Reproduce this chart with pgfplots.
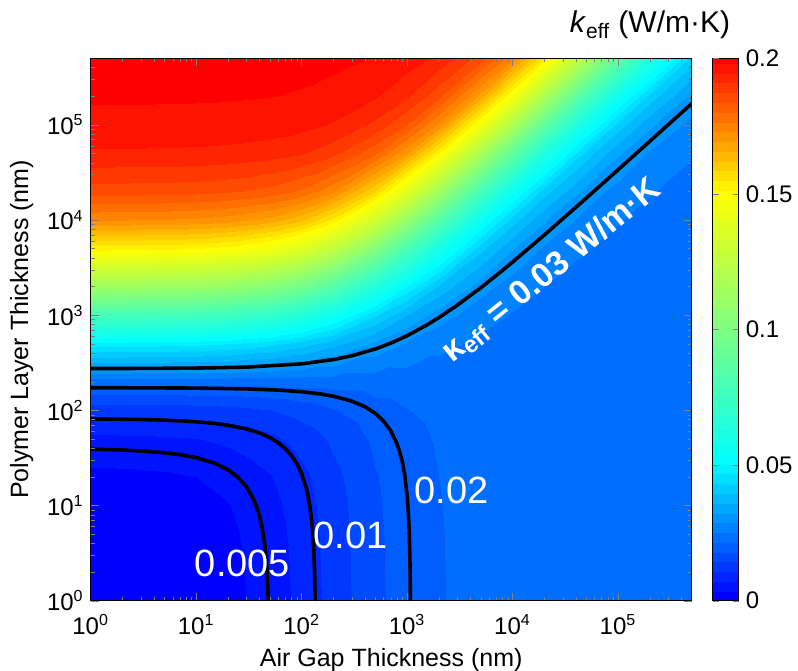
\documentclass[border=0pt]{standalone}
\usepackage{pgfplots}
\pgfplotsset{compat=1.18}
\usepackage{fontspec}
\setmainfont{Liberation Sans}

\pgfplotsset{
  colormap={kmap}{rgb(0pt)=(0,0,1); rgb(1pt)=(0,1,1); rgb(3pt)=(1,1,0); rgb(4pt)=(1,0,0)},
}

\begin{document}
\begin{tikzpicture}
\useasboundingbox (-45.35pt,-34.65pt) rectangle (353.65pt,300.35pt);
\begin{axis}[
  at={(0,0)}, anchor=south west,
  scale only axis, width=300.5pt, height=271.2pt,
  view={0}{90},
  xmode=log, ymode=log,
  xmin=1, xmax=5e5, ymin=1, ymax=5e5,
  colormap name=kmap,
  point meta min=0, point meta max=0.2,
  axis on top,
  tick align=inside,
  major tick length=4pt, minor tick length=2pt,
  xtick={1,10,100,1000,10000,100000},
  ytick={1,10,100,1000,10000,100000},
  xticklabels={10\textsuperscript{0},10\textsuperscript{1},10\textsuperscript{2},10\textsuperscript{3},10\textsuperscript{4},10\textsuperscript{5}},
  yticklabels={10\textsuperscript{0},10\textsuperscript{1},10\textsuperscript{2},10\textsuperscript{3},10\textsuperscript{4},10\textsuperscript{5}},
  minor xtick={2,3,4,5,6,7,8,9,20,30,40,50,60,70,80,90,200,300,400,500,600,700,800,900,2000,3000,4000,5000,6000,7000,8000,9000,20000,30000,40000,50000,60000,70000,80000,90000,200000,300000,400000},
  minor ytick={2,3,4,5,6,7,8,9,20,30,40,50,60,70,80,90,200,300,400,500,600,700,800,900,2000,3000,4000,5000,6000,7000,8000,9000,20000,30000,40000,50000,60000,70000,80000,90000,200000,300000,400000},
  tick label style={font=\fontsize{12}{14}\selectfont},
  xticklabel style={yshift=-3.5pt},
  xlabel={Air Gap Thickness (nm)},
  ylabel={Polymer Layer Thickness (nm)},
  label style={font=\fontsize{12.5}{15}\selectfont},
  colorbar,
  colorbar style={
    at={(parent axis.north east)}, anchor=north west, xshift=2pt,
    width=13pt,
    ytick={0,0.05,0.1,0.15,0.2},
    yticklabels={0,0.05,0.1,0.15,0.2},
    yticklabel style={font=\fontsize{12}{14}\selectfont},
    ytick pos=both, yticklabel pos=right,
    tick align=inside, major tick length=3pt,
  },
]
% rows from the top (p = 5e5) down, so that cells are split along the rising diagonal
\addplot3[z buffer=none, contour filled={levels={0.0036,0.0072,0.0108,0.0144,0.018,0.0216,0.0252,0.0288,0.0324,0.036,0.0396,0.0432,0.0468,0.0504,0.054,0.0576,0.0612,0.0648,0.0684,0.072,0.0756,0.0792,0.0828,0.0864,0.09,0.0936,0.0972,0.1008,0.1044,0.108,0.1116,0.1152,0.1188,0.1224,0.126,0.1296,0.1332,0.1368,0.1404,0.144,0.1476,0.1512,0.1548,0.1584,0.162,0.1656,0.1692,0.1728,0.1764,0.18,0.1836,0.1872,0.1908,0.1944,0.198}}] table {
x y z
1 500000 0.199376
2 500000 0.199373
5 500000 0.199364
10 500000 0.199349
20 500000 0.199319
50 500000 0.199229
100 500000 0.199079
200 500000 0.198779
500 500000 0.197890
1000 500000 0.196426
2000 500000 0.193569
5000 500000 0.185540
10000 500000 0.173719
20000 500000 0.154588
50000 500000 0.118336
100000 500000 0.088394
200000 500000 0.063247
500000 500000 0.041827

1 200000 0.198448
2 200000 0.198441
5 200000 0.198418
10 200000 0.198381
20 200000 0.198307
50 200000 0.198085
100 200000 0.197715
200 200000 0.196981
500 200000 0.194815
1000 200000 0.191322
2000 200000 0.184748
5000 200000 0.167788
10000 200000 0.146260
20000 200000 0.118040
50000 200000 0.079421
100000 200000 0.056735
200000 200000 0.041807
500000 200000 0.031239

1 100000 0.196921
2 100000 0.196906
5 100000 0.196862
10 100000 0.196788
20 100000 0.196643
50 100000 0.196207
100 100000 0.195484
200 100000 0.194057
500 100000 0.189916
1000 100000 0.183442
2000 100000 0.171896
5000 100000 0.145473
10000 100000 0.117549
20000 100000 0.087991
50000 100000 0.056651
100000 100000 0.041773
200000 100000 0.033084
500000 100000 0.027388

1 50000 0.193934
2 50000 0.193905
5 50000 0.193820
10 50000 0.193680
20 50000 0.193398
50 50000 0.192558
100 50000 0.191176
200 50000 0.188479
500 50000 0.180885
1000 50000 0.169670
2000 50000 0.151435
5000 50000 0.116579
10000 50000 0.087492
20000 50000 0.062849
50000 50000 0.041705
100000 50000 0.033056
200000 50000 0.028352
500000 50000 0.025395

1 20000 0.185496
2 20000 0.185430
5 20000 0.185238
10 20000 0.184918
20 20000 0.184282
50 20000 0.182402
100 20000 0.179365
200 20000 0.173626
500 20000 0.158691
1000 20000 0.139459
2000 20000 0.113765
5000 20000 0.077692
10000 20000 0.055993
20000 20000 0.041503
50000 20000 0.031142
100000 20000 0.027348
200000 20000 0.025381
500000 20000 0.024177

1 10000 0.172954
2 10000 0.172843
5 10000 0.172512
10 10000 0.171964
20 10000 0.170879
50 10000 0.167718
100 10000 0.162741
200 10000 0.153749
500 10000 0.132606
1000 10000 0.109364
2000 10000 0.083693
5000 10000 0.055192
10000 10000 0.041171
20000 10000 0.032831
50000 10000 0.027300
100000 10000 0.025359
200000 10000 0.024368
500000 10000 0.023768

1 5000 0.152354
2 5000 0.152186
5 5000 0.151685
10 5000 0.150858
20 5000 0.149236
50 5000 0.144608
100 5000 0.137607
200 5000 0.125780
500 5000 0.101510
1000 5000 0.079384
2000 5000 0.059130
5000 5000 0.040522
10000 5000 0.032553
20000 5000 0.028128
50000 5000 0.025313
100000 5000 0.024346
200000 5000 0.023857
500000 5000 0.023562

1 2000 0.112259
2 2000 0.112047
5 2000 0.111414
10 2000 0.110379
20 2000 0.108381
50 2000 0.102901
100 2000 0.095186
200 2000 0.083517
500 2000 0.063805
1000 2000 0.049520
2000 2000 0.038691
5000 2000 0.030201
10000 2000 0.026919
20000 2000 0.025178
50000 2000 0.024099
100000 2000 0.023733
200000 2000 0.023549
500000 2000 0.023438

1 1000 0.078052
2 1000 0.077870
5 1000 0.077331
10 1000 0.076457
20 1000 0.074791
50 1000 0.070366
100 1000 0.064471
200 1000 0.056227
500 1000 0.043883
1000 1000 0.035983
2000 1000 0.030493
5000 1000 0.026457
10000 1000 0.024955
20000 1000 0.024172
50000 1000 0.023690
100000 1000 0.023528
200000 1000 0.023446
500000 1000 0.023397

1 500 0.048524
2 500 0.048420
5 500 0.048114
10 500 0.047619
20 500 0.046687
50 500 0.044276
100 500 0.041203
200 500 0.037151
500 500 0.031564
1000 500 0.028258
2000 500 0.026074
5000 500 0.024523
10000 500 0.023957
20000 500 0.023664
50000 500 0.023485
100000 500 0.023425
200000 500 0.023395
500000 500 0.023377

1 200 0.022777
2 200 0.022780
5 200 0.022788
10 200 0.022801
20 200 0.022826
50 200 0.022890
100 200 0.022968
200 200 0.023065
500 200 0.023193
1000 200 0.023264
2000 200 0.023310
5000 200 0.023341
10000 200 0.023353
20000 200 0.023358
50000 200 0.023362
100000 200 0.023363
200000 200 0.023363
500000 200 0.023364

1 100 0.012133
2 100 0.012190
5 100 0.012359
10 100 0.012629
20 100 0.013132
50 100 0.014393
100 100 0.015921
200 100 0.017813
500 100 0.020214
1000 100 0.021534
2000 100 0.022369
5000 100 0.022944
10000 100 0.023150
20000 100 0.023256
50000 100 0.023321
100000 100 0.023343
200000 100 0.023354
500000 100 0.023360

1 50 0.006316
2 50 0.006406
5 50 0.006670
10 50 0.007092
20 50 0.007876
50 50 0.009831
100 50 0.012183
200 50 0.015068
500 50 0.018687
1000 50 0.020656
2000 50 0.021894
5000 50 0.022744
10000 50 0.023049
20000 50 0.023205
50000 50 0.023300
100000 50 0.023332
200000 50 0.023348
500000 50 0.023358

1 20 0.002650
2 20 0.002761
5 20 0.003088
10 20 0.003610
20 20 0.004578
50 20 0.006985
100 20 0.009867
200 20 0.013380
500 20 0.017758
1000 20 0.020125
2000 20 0.021609
5000 20 0.022625
10000 20 0.022988
20000 20 0.023174
50000 20 0.023288
100000 20 0.023326
200000 20 0.023346
500000 20 0.023357

1 10 0.001397
2 10 0.001516
5 10 0.001864
10 10 0.002421
20 10 0.003453
50 10 0.006017
100 10 0.009082
200 10 0.012811
500 10 0.017447
1000 10 0.019948
2000 10 0.021513
5000 10 0.022585
10000 10 0.022968
20000 10 0.023164
50000 10 0.023284
100000 10 0.023324
200000 10 0.023345
500000 10 0.023356

1 5 0.000764
2 5 0.000887
5 5 0.001247
10 5 0.001821
20 5 0.002886
50 5 0.005529
100 5 0.008687
200 5 0.012525
500 5 0.017290
1000 5 0.019859
2000 5 0.021465
5000 5 0.022565
10000 5 0.022958
20000 5 0.023159
50000 5 0.023282
100000 5 0.023323
200000 5 0.023344
500000 5 0.023356

1 2 0.000383
2 2 0.000508
5 2 0.000874
10 2 0.001460
20 2 0.002544
50 2 0.005236
100 2 0.008449
200 2 0.012353
500 2 0.017197
1000 2 0.019806
2000 2 0.021436
5000 2 0.022553
10000 2 0.022951
20000 2 0.023156
50000 2 0.023281
100000 2 0.023322
200000 2 0.023344
500000 2 0.023356

1 1 0.000255
2 1 0.000381
5 1 0.000750
10 1 0.001339
20 1 0.002430
50 1 0.005138
100 1 0.008370
200 1 0.012296
500 1 0.017165
1000 1 0.019788
2000 1 0.021427
5000 1 0.022549
10000 1 0.022949
20000 1 0.023155
50000 1 0.023280
100000 1 0.023322
200000 1 0.023343
500000 1 0.023356
};

% contour lines
\addplot[black, line width=1.8pt] coordinates {
(1,39.10) (2,38.30) (3,37.49) (5,35.88) (7,34.27) (10,31.85) (15,27.82) (20,23.79) (25,19.75) (30,15.72) (35,11.69) (38,9.27) (40,7.66) (42,6.05) (44,4.44) (45,3.63) (46,2.82) (47,2.02) (47.5,1.62) (48,1.21) (48.26,1.0)
};
\addplot[black, line width=1.8pt] coordinates {
(1,81.32) (2,80.72) (3,80.11) (5,78.91) (7,77.71) (10,75.90) (15,72.89) (20,69.88) (30,63.86) (40,57.84) (50,51.82) (60,45.79) (70,39.77) (80,33.75) (90,27.73) (100,21.71) (110,15.69) (115,12.68) (120,9.67) (125,6.66) (128,4.85) (130,3.65) (132,2.45) (133,1.84) (134,1.24) (134.4,1.0)
};
\addplot[black, line width=1.8pt] coordinates {
(1,172.8) (3,172.5) (10,171.3) (30,168.1) (60,163.3) (100,156.9) (150,148.9) (200,140.9) (300,124.9) (400,108.9) (500,92.9) (600,76.9) (700,60.9) (800,44.9) (850,36.9) (900,28.9) (950,20.9) (1000,12.9) (1020,9.7) (1040,6.5) (1050,4.9) (1060,3.3) (1065,2.5) (1070,1.7) (1074.6,1.0)
};
\addplot[black, line width=1.8pt] coordinates {
(1,275.0) (3,275.7) (10,278.0) (30,284.7) (100,308.1) (200,341.5) (300,374.9) (500,441.7) (700,508.5) (1000,608.8) (1500,775.8) (2000,942.9) (3000,1277) (5000,1945) (7000,2613) (10000,3616) (20000,6957) (50000,16981) (100000,33687) (200000,67099) (500000,167335)
};

\node[text=white, font=\fontsize{19}{22}\selectfont] at (axis cs:27.5,2.49,0) {0.005};
\node[text=white, font=\fontsize{19}{22}\selectfont] at (axis cs:292,4.89,0) {0.01};
\node[text=white, font=\fontsize{19}{22}\selectfont] at (axis cs:2640,14.5,0) {0.02};
\node[text=white, rotate=39, font=\bfseries\fontsize{17}{20}\selectfont] at (axis cs:23400,2950,0) {κ\textsubscript{eff} = 0.03 W/m·K};
\end{axis}
\node[font=\fontsize{15}{18}\selectfont] at (279.65pt,287.85pt) {\textit{k}\textsubscript{eff} (W/m·K)};
\end{tikzpicture}
\end{document}
